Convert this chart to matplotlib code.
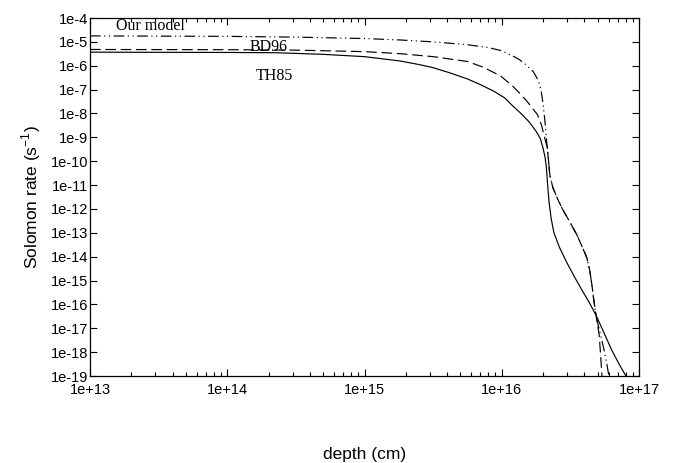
import matplotlib
matplotlib.use("Agg")
import matplotlib.pyplot as plt
from matplotlib.ticker import FixedLocator, LogLocator, NullFormatter

plt.rcParams["axes.unicode_minus"] = False

# Photodissociation (Solomon) rate against depth for three models
ours_depth = [1e13, 3.16e13, 1e14, 3.16e14, 1e15, 1.82e15, 3.16e15, 5.62e15,
              7.94e15, 9.77e15, 1.17e16, 1.35e16, 1.51e16, 1.70e16, 1.84e16,
              1.93e16, 2.0e16, 2.07e16, 2.11e16, 2.16e16, 2.19e16,
              2.24e16, 2.36e16, 2.57e16, 2.79e16, 3.14e16, 3.53e16, 3.89e16,
              4.17e16, 4.37e16, 4.54e16, 4.68e16, 4.90e16,
              5.25e16, 5.56e16, 5.85e16, 6.03e16, 6.17e16]
ours_rate = [1.78e-5, 1.74e-5, 1.70e-5, 1.58e-5, 1.38e-5, 1.20e-5, 1.0e-5, 7.6e-6,
             5.8e-6, 4.4e-6, 2.8e-6, 1.78e-6, 1.07e-6, 5.6e-7, 2.5e-7,
             1.0e-7, 2.5e-8, 4.0e-9, 1.0e-9, 2.5e-10, 1.12e-10,
             2.6e-11, 7.6e-12, 2.4e-12, 9.1e-13, 2.8e-13, 8.1e-14, 2.3e-14,
             8.9e-15, 2.75e-15, 6.5e-16, 1.55e-16, 2.7e-17,
             5.2e-18, 1.26e-18, 2.9e-19, 1.0e-19, 4.0e-20]

bd96_depth = [1e13, 1e14, 3.16e14, 1e15, 1.82e15, 3.16e15, 5.62e15, 7.24e15,
              9.77e15, 1.20e16, 1.35e16, 1.51e16, 1.66e16, 1.82e16, 1.95e16,
              2.04e16, 2.14e16, 2.19e16,
              2.24e16, 2.36e16, 2.57e16, 2.79e16, 3.14e16, 3.53e16, 3.89e16,
              4.17e16, 4.37e16, 4.54e16, 4.68e16, 4.90e16,
              5.13e16, 5.25e16, 5.37e16, 5.43e16]
bd96_rate = [4.8e-6, 4.7e-6, 4.5e-6, 3.9e-6, 3.2e-6, 2.4e-6, 1.51e-6, 8.9e-7,
             3.8e-7, 1.41e-7, 7.1e-8, 3.5e-8, 1.78e-8, 8.9e-9, 3.2e-9,
             1.12e-9, 4.0e-10, 1.12e-10,
             2.6e-11, 7.6e-12, 2.4e-12, 9.1e-13, 2.8e-13, 8.1e-14, 2.3e-14,
             8.9e-15, 2.75e-15, 6.5e-16, 1.55e-16, 2.7e-17,
             5.2e-18, 7.6e-19, 1.0e-19, 4.0e-20]

th85_depth = [1e13, 1e14, 2.29e14, 5.01e14, 1e15, 1.82e15, 2.5e15, 3.16e15,
              4.2e15, 5.62e15, 6.92e15, 8.71e15, 1.05e16, 1.20e16, 1.38e16,
              1.58e16, 1.78e16, 1.91e16, 2.0e16, 2.07e16, 2.11e16, 2.16e16,
              2.21e16, 2.29e16, 2.40e16, 2.63e16, 2.95e16, 3.39e16, 3.89e16,
              4.37e16, 4.90e16, 5.62e16, 6.31e16, 7.24e16, 8.13e16, 8.51e16]
th85_rate = [3.7e-6, 3.6e-6, 3.5e-6, 3.0e-6, 2.4e-6, 1.58e-6, 1.12e-6, 8.3e-7,
             5.0e-7, 2.8e-7, 1.66e-7, 8.7e-8, 4.5e-8, 2.1e-8, 1.0e-8,
             4.5e-9, 1.78e-9, 8.9e-10, 3.5e-10, 1.41e-10, 6.3e-11, 1.0e-11,
             2.0e-12, 4.0e-13, 1.0e-13, 2.5e-14, 6.3e-15, 1.41e-15, 3.5e-16,
             1.12e-16, 3.2e-17, 5.6e-18, 1.26e-18, 2.8e-19, 8.9e-20, 5.0e-20]

x_ticks = [1e13, 1e14, 1e15, 1e16, 1e17]
x_tick_labels = ["1e+13", "1e+14", "1e+15", "1e+16", "1e+17"]
y_ticks = [1e-4, 1e-5, 1e-6, 1e-7, 1e-8, 1e-9, 1e-10, 1e-11,
           1e-12, 1e-13, 1e-14, 1e-15, 1e-16, 1e-17, 1e-18, 1e-19]
y_tick_labels = ["1e-4", "1e-5", "1e-6", "1e-7", "1e-8", "1e-9", "1e-10", "1e-11",
                 "1e-12", "1e-13", "1e-14", "1e-15", "1e-16", "1e-17", "1e-18", "1e-19"]

fig = plt.figure(figsize=(6.75, 4.63), dpi=100)
ax = fig.add_axes([90 / 675, 1 - 376 / 463, (639 - 90) / 675, (376 - 18) / 463])

ax.plot(ours_depth, ours_rate, color="black", lw=0.85,
        dashes=(9, 3, 1, 3, 1, 3))
ax.plot(bd96_depth, bd96_rate, color="black", lw=0.85, dashes=(9, 4))
ax.plot(th85_depth, th85_rate, color="black", lw=0.85)

ax.set_xscale("log")
ax.set_yscale("log")
ax.set_xlim(1e13, 1e17)
ax.set_ylim(1e-19, 1e-4)

ax.xaxis.set_major_locator(FixedLocator(x_ticks))
ax.set_xticklabels(x_tick_labels)
ax.xaxis.set_minor_locator(LogLocator(base=10, subs=range(2, 10), numticks=50))
ax.xaxis.set_minor_formatter(NullFormatter())
ax.yaxis.set_major_locator(FixedLocator(y_ticks))
ax.set_yticklabels(y_tick_labels)
ax.yaxis.set_minor_locator(FixedLocator([]))

sans = ["Liberation Sans", "DejaVu Sans"]
for lab in ax.get_xticklabels() + ax.get_yticklabels():
    lab.set_fontfamily(sans)
    lab.set_fontsize(10.5)

ax.tick_params(which="both", direction="in", top=True, right=True,
               width=0.8, color="black")
ax.tick_params(which="major", length=5)
ax.tick_params(which="minor", length=3)
ax.tick_params(axis="y", pad=1)
ax.tick_params(axis="x", pad=5)
for s in ax.spines.values():
    s.set_linewidth(0.9)

ax.set_xlabel("depth (cm)", fontsize=12.5, family=sans, labelpad=36)
ax.set_ylabel("Solomon rate (s$^{\\mathregular{-1}}$)", fontsize=12.5,
              family=sans, labelpad=6)

serif = ["Liberation Serif", "DejaVu Serif"]
ax.text(2.75e13, 4.8e-5, "Our model", family=serif, fontsize=11.5,
        ha="center", va="center")
ax.text(2.0e14, 6.2e-6, "BD96", family=serif, fontsize=11.5,
        ha="center", va="center")
ax.text(2.2e14, 3.6e-7, "TH85", family=serif, fontsize=11.5,
        ha="center", va="center")

fig.savefig("out.png", dpi=100)
